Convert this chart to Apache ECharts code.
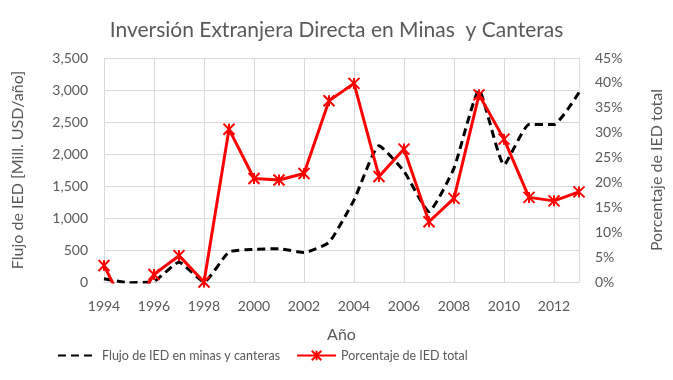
<!DOCTYPE html>
<html>
<head>
<meta charset="utf-8">
<script src="https://cdn.jsdelivr.net/npm/echarts@6/dist/echarts.min.js"></script>
<style>
html, body { margin: 0; padding: 0; background: #fff; }
#chart { width: 673px; height: 380px; }
</style>
</head>
<body>
<div id="chart"></div>
<script>
// años
var years = ['1994','1995','1996','1997','1998','1999','2000','2001','2002','2003',
             '2004','2005','2006','2007','2008','2009','2010','2011','2012','2013'];
// flujo de IED en minas y canteras (Mill. USD)
var flujo = [50, -10, 10, 310, 0, 470, 510, 520, 460, 620,
             1280, 2130, 1730, 1100, 1780, 3000, 1830, 2460, 2460, 2960];
// porcentaje de IED total (%)
var porcentaje = [3.3, -6.6, 1.5, 5.3, 0, 30.7, 20.8, 20.5, 21.8, 36.4,
                  39.9, 21.2, 26.7, 12.1, 16.8, 37.6, 28.7, 17.0, 16.3, 18.1];

var font = 'Lato, "Liberation Sans", sans-serif';
var grey = '#595959';
var gridCol = '#d9d9d9';

var star = 'path://M0,0L10,10M10,0L0,10M5,0L5,10';

var chart = echarts.init(document.getElementById('chart'));
var option = {
  animation: false,
  textStyle: { fontFamily: font },
  title: {
    text: 'Inversión Extranjera Directa en Minas  y Canteras',
    left: 'center',
    top: 15,
    textStyle: { fontFamily: font, fontSize: 21, fontWeight: 'normal', color: grey }
  },
  grid: { left: 104, right: 93, top: 58, bottom: 98 },
  legend: {
    bottom: 13,
    left: 52,
    itemWidth: 39,
    itemHeight: 12,
    itemGap: 16,
    textStyle: { fontFamily: font, fontSize: 12.5, color: grey },
    data: [
      { name: 'Flujo de IED en minas y canteras', itemStyle: { opacity: 0 } },
      'Porcentaje de IED total'
    ]
  },
  xAxis: {
    type: 'category',
    data: years,
    boundaryGap: false,
    name: 'Año',
    nameLocation: 'middle',
    nameGap: 45,
    nameTextStyle: { fontSize: 16, color: grey },
    axisTick: { show: false },
    axisLine: { lineStyle: { color: gridCol } },
    axisLabel: { interval: 1, color: grey, fontSize: 14, margin: 17 },
    splitLine: { show: true, interval: 1, lineStyle: { color: gridCol } }
  },
  yAxis: [
    {
      type: 'value',
      min: 0, max: 3500, interval: 500,
      name: 'Flujo de IED [Mill. USD/año]',
      nameLocation: 'middle',
      nameGap: 78,
      nameTextStyle: { fontSize: 16, color: grey },
      axisLine: { show: false },
      axisTick: { show: false },
      axisLabel: {
        color: grey, fontSize: 14, margin: 16,
        formatter: function (v) { return v.toLocaleString('en-US'); }
      },
      splitLine: { lineStyle: { color: gridCol } }
    },
    {
      type: 'value',
      min: 0, max: 45, interval: 5,
      name: 'Porcentaje de IED total',
      nameLocation: 'middle',
      nameGap: 70,
      nameTextStyle: { fontSize: 16, color: grey },
      axisLine: { show: true, lineStyle: { color: gridCol } },
      axisTick: { show: false },
      axisLabel: { color: grey, fontSize: 14, margin: 16, formatter: '{value}%' },
      splitLine: { show: false }
    }
  ],
  series: [
    {
      name: 'Flujo de IED en minas y canteras',
      type: 'line',
      yAxisIndex: 0,
      data: flujo,
      symbol: 'none',
      smooth: 0.15,
      lineStyle: { color: '#000', width: 3, type: [8, 5] },
      itemStyle: { color: '#000' }
    },
    {
      name: 'Porcentaje de IED total',
      type: 'line',
      yAxisIndex: 1,
      data: porcentaje,
      symbol: star,
      symbolSize: 11,
      lineStyle: { color: '#ff0000', width: 3 },
      itemStyle: { color: '#ff0000', borderColor: '#ff0000', borderWidth: 2 }
    }
  ]
};
chart.setOption(option);
</script>
</body>
</html>
